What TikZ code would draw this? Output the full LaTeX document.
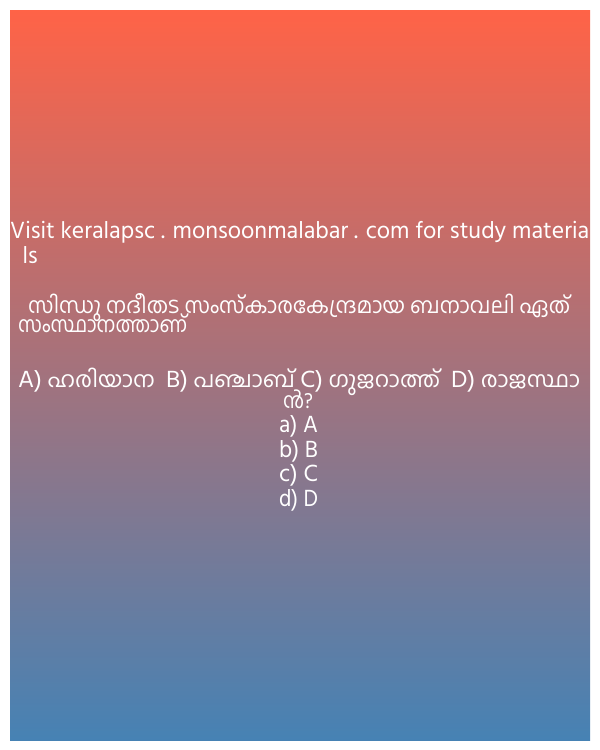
\documentclass[tikz,border=0pt]{standalone}
\usepackage{fontspec}
\usepackage{graphicx}
\setmainfont{Hind Kochi}
\newfontfamily\mlfont[Script=Malayalam]{Hind Kochi}
\newcommand\latbig{\fontsize{24}{25}\selectfont}
\definecolor{topc}{HTML}{FF6347}
\definecolor{botc}{HTML}{4682B4}
\begin{document}
\begin{tikzpicture}[x=1pt,y=1pt,
  txt/.style={text=white, inner sep=0pt, font=\fontsize{22}{25}\selectfont},
  lat/.style={txt, font=\latbig}]
\useasboundingbox (0,0) rectangle (600,-750);
\shade[top color=topc, bottom color=botc] (10,-10) rectangle (590,-740);
\node[lat, anchor=base west] (l1) at (10,-238) {\resizebox{579pt}{\height}{Visit keralapsc . monsoonmalabar . com for study materia}};
\node[lat, anchor=base west] (l2) at (22.5,-263) {\resizebox{15pt}{\height}{ls}};
\node[txt, anchor=base west] (m1) at (28,-313) {\resizebox{542pt}{\height}{\mlfont സിന്ധു നദീതട സംസ്കാരകേന്ദ്രമായ ബനാവലി ഏത്}};
\node[txt, anchor=base west] (m2) at (18,-332) {\resizebox{169pt}{\height}{\mlfont സംസ്ഥാനത്താണ്}};
\node[txt, anchor=base west] (o1) at (18,-387) {\resizebox{562pt}{\height}{{\latbig A)} \mlfont ഹരിയാന\ \ {\latbig B)} പഞ്ചാബ് {\latbig C)} ഗുജറാത്ത്\ \ {\latbig D)} രാജസ്ഥാ}};
\node[txt, anchor=base] (o2) at (298,-408) {\resizebox{30pt}{\height}{\mlfont ൻ?}};
\node[lat, anchor=base] (a) at (298.5,-432) {\resizebox{39pt}{\height}{a) A}};
\node[lat, anchor=base] (b) at (298.5,-457) {\resizebox{39pt}{\height}{b) B}};
\node[lat, anchor=base] (c) at (298.5,-481) {\resizebox{39pt}{\height}{c) C}};
\node[lat, anchor=base] (d) at (298.5,-506) {\resizebox{39pt}{\height}{d) D}};
\end{tikzpicture}
\end{document}
